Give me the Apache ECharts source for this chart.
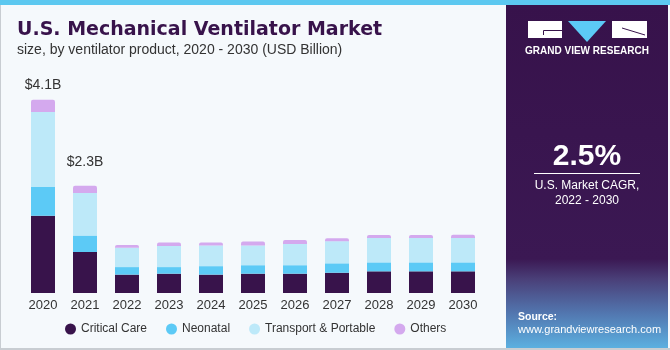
<!DOCTYPE html>
<html>
<head>
<meta charset="utf-8">
<script src="https://cdn.jsdelivr.net/npm/echarts@6/dist/echarts.min.js"></script>
<style>
  html, body { margin: 0; padding: 0; background: #f5f9fc; }
  #chart { width: 670px; height: 350px; }
</style>
</head>
<body>
<div id="chart"></div>
<script>
// market size by product, USD billion
const years = ['2020', '2021', '2022', '2023', '2024', '2025', '2026', '2027', '2028', '2029', '2030'];
const criticalCare = [1.64, 0.87, 0.39, 0.41, 0.39, 0.41, 0.41, 0.43, 0.46, 0.46, 0.46];
const neonatal = [0.61, 0.35, 0.16, 0.14, 0.18, 0.18, 0.18, 0.20, 0.19, 0.19, 0.19];
const transport = [1.59, 0.90, 0.41, 0.45, 0.44, 0.42, 0.45, 0.47, 0.52, 0.52, 0.52];
const others = [0.26, 0.155, 0.06, 0.07, 0.06, 0.085, 0.085, 0.064, 0.06, 0.06, 0.065];
const totalLabels = ['$4.1B', '$2.3B'];

const dark = '#38134b';
let myChart = echarts.init(document.getElementById('chart'));

// others series carries the total labels on the first two bars
let othersData = others.map(function (v, i) {
  if (i < totalLabels.length) {
    return {
      value: v,
      label: {
        show: true,
        position: 'top',
        distance: i === 0 ? 8 : 17,
        formatter: totalLabels[i],
        fontSize: 14,
        color: '#333',
        fontFamily: 'Liberation Sans'
      }
    };
  }
  return v;
});

let panelFill = new echarts.graphic.LinearGradient(0, 0, 0, 1, [
  { offset: 0, color: '#37124b' },
  { offset: 0.74, color: '#3b1853' },
  { offset: 0.8, color: '#4a4079' },
  { offset: 0.9, color: '#5277b0' },
  { offset: 1, color: '#5cb0e0' }
]);

let option = {
  backgroundColor: '#f5f9fc',
  animation: false,
  grid: { left: 22, width: 462, top: 81, height: 212 },
  xAxis: {
    type: 'category',
    data: years,
    axisLine: { show: false },
    axisTick: { show: false },
    axisLabel: { fontSize: 13, color: '#333', margin: 6, fontFamily: 'Liberation Sans' }
  },
  yAxis: { type: 'value', min: 0, max: 4.5, show: false },
  legend: {
    left: 60,
    top: 318,
    icon: 'circle',
    itemWidth: 11,
    itemHeight: 11,
    itemGap: 19,
    textStyle: { fontSize: 12, color: '#333', fontFamily: 'Liberation Sans' },
    data: ['Critical Care', 'Neonatal', 'Transport & Portable', 'Others']
  },
  series: [
    { name: 'Critical Care', type: 'bar', stack: 'total', barWidth: 24, data: criticalCare, itemStyle: { color: dark } },
    { name: 'Neonatal', type: 'bar', stack: 'total', data: neonatal, itemStyle: { color: '#5ccaf6' } },
    { name: 'Transport & Portable', type: 'bar', stack: 'total', data: transport, itemStyle: { color: '#bde9f9' } },
    { name: 'Others', type: 'bar', stack: 'total', data: othersData, itemStyle: { color: '#d4a9ee', borderRadius: [2, 2, 0, 0] } }
  ],
  graphic: [
    // frame
    { type: 'rect', shape: { x: 0, y: 0, width: 670, height: 5 }, style: { fill: '#5cc8f0' } },
    { type: 'rect', shape: { x: 0, y: 5, width: 1, height: 345 }, style: { fill: '#c8cdd2' } },
    { type: 'rect', shape: { x: 0, y: 348, width: 670, height: 2 }, style: { fill: '#c8cdd2' } },
    // titles
    {
      type: 'text', left: 17, top: 21,
      style: { text: 'U.S. Mechanical Ventilator Market', fontSize: 19, fontWeight: 'bold', fontFamily: 'DejaVu Sans', fill: dark }
    },
    {
      type: 'text', left: 17, top: 43,
      style: { text: 'size, by ventilator product, 2020 - 2030 (USD Billion)', fontSize: 14, fontFamily: 'Liberation Sans', fill: '#333' }
    },
    // right panel
    { type: 'rect', shape: { x: 506, y: 5, width: 162, height: 343 }, style: { fill: panelFill } },
    // logo
    { type: 'rect', shape: { x: 528, y: 21, width: 34, height: 17 }, style: { fill: '#fff' } },
    { type: 'polyline', shape: { points: [[562, 30.5], [543.5, 30.5], [543.5, 35]] }, style: { stroke: dark, lineWidth: 1, fill: null } },
    { type: 'polygon', shape: { points: [[568, 21], [606, 21], [587, 42]] }, style: { fill: '#5ccaf6' } },
    { type: 'rect', shape: { x: 612, y: 21, width: 35, height: 17 }, style: { fill: '#fff' } },
    { type: 'line', shape: { x1: 622, y1: 28, x2: 645, y2: 35 }, style: { stroke: dark, lineWidth: 1 } },
    {
      type: 'text', x: 587, y: 51,
      style: { text: 'GRAND VIEW RESEARCH', fontSize: 10, fontWeight: 'bold', fontFamily: 'Liberation Sans', fill: '#fff', align: 'center', verticalAlign: 'middle' }
    },
    // CAGR
    {
      type: 'text', x: 587, y: 157,
      style: { text: '2.5%', fontSize: 30, fontWeight: 'bold', fontFamily: 'Liberation Sans', fill: '#fff', align: 'center', verticalAlign: 'middle' }
    },
    { type: 'line', shape: { x1: 534, y1: 173.5, x2: 640, y2: 173.5 }, style: { stroke: '#fff', lineWidth: 1 } },
    {
      type: 'text', x: 587, y: 186,
      style: { text: 'U.S. Market CAGR,', fontSize: 12, fontFamily: 'Liberation Sans', fill: '#fff', align: 'center', verticalAlign: 'middle' }
    },
    {
      type: 'text', x: 587, y: 201,
      style: { text: '2022 - 2030', fontSize: 12, fontFamily: 'Liberation Sans', fill: '#fff', align: 'center', verticalAlign: 'middle' }
    },
    // source
    {
      type: 'text', x: 518, y: 317,
      style: { text: 'Source:', fontSize: 10.5, fontWeight: 'bold', fontFamily: 'Liberation Sans', fill: '#fff', verticalAlign: 'middle' }
    },
    {
      type: 'text', x: 518, y: 330,
      style: { text: 'www.grandviewresearch.com', fontSize: 11, fontFamily: 'Liberation Sans', fill: '#fff', verticalAlign: 'middle' }
    }
  ]
};
myChart.setOption(option);
</script>
</body>
</html>
